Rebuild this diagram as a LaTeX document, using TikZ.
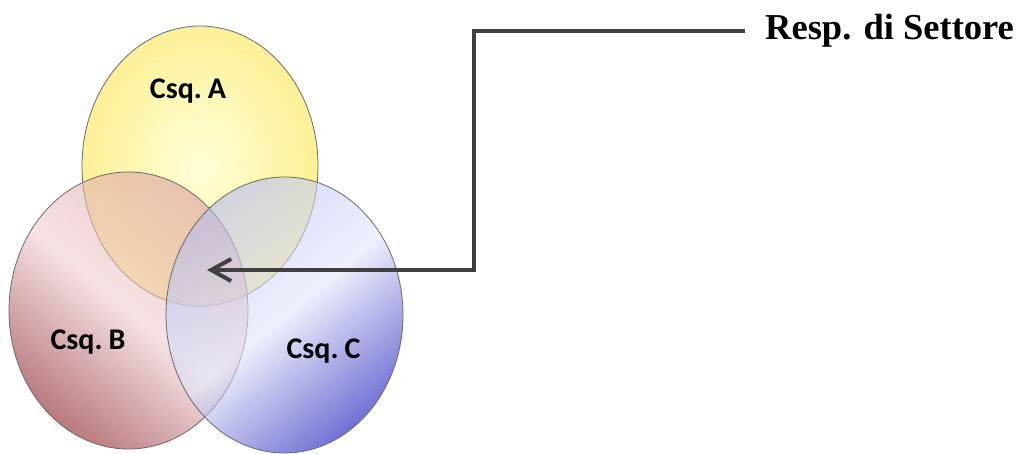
\documentclass[tikz,border=0pt]{standalone}
\usepackage{fontspec}
\setmainfont{Liberation Serif}
\newfontfamily\calib[WordSpace=0.55]{Carlito}
\usetikzlibrary{shapes.geometric,arrows.meta}
\definecolor{edgegray}{HTML}{6A6A6A}
\definecolor{linegray}{HTML}{404040}
\definecolor{yin}{HTML}{FFFFD8}
\definecolor{yout}{HTML}{FCF096}
\definecolor{blight}{HTML}{D99A9E}
\definecolor{bgloss}{HTML}{EFCDCF}
\definecolor{bdark}{HTML}{861A20}
\definecolor{clight}{HTML}{B4BCF2}
\definecolor{cgloss}{HTML}{E2E6FB}
\definecolor{cdark}{HTML}{1414B8}
\begin{document}
\begin{tikzpicture}[x=1pt,y=-1pt,
  venn/.style={ellipse, draw=edgegray, line width=0.8pt, inner sep=0pt},
  lbl/.style={font=\calib\bfseries\fontsize{30}{34}\selectfont, anchor=base, text=black},
  conn/.style={draw=linegray, line width=3.2pt, -{Straight Barb[length=20pt,width=22pt,line width=4pt]}}]
\useasboundingbox (0,0) rectangle (1023,454);
\node[venn, minimum width=236pt, minimum height=280pt, inner color=yin, outer color=yout] (A) at (200,166) {};
\node[venn, minimum width=239pt, minimum height=277pt, fill opacity=0.58,
  top color=blight, bottom color=bdark, middle color=bgloss, shading angle=-40] (B) at (128.5,310.5) {};
\node[venn, minimum width=237pt, minimum height=276pt, fill opacity=0.6,
  top color=clight, bottom color=cdark, middle color=cgloss, shading angle=40] (C) at (284.5,315) {};
\node[lbl] (la) at (188,99) {Csq. A};
\node[lbl] (lb) at (88,350) {Csq. B};
\node[lbl] (lc) at (323.5,359) {Csq. C};
\node[font=\bfseries\fontsize{36.5}{40}\selectfont, anchor=west, inner xsep=20pt, inner ysep=0pt] (resp) at (745,31) {Resp. di Settore};
\coordinate (bend) at (474,270);
\coordinate (tip) at (207,270);
\draw[conn] (resp.west) -| (bend) -- (tip);
\end{tikzpicture}
\end{document}
